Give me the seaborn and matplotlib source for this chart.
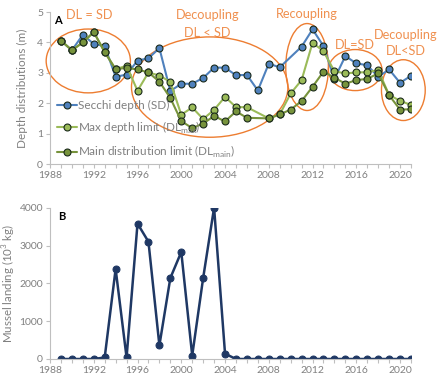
import numpy as np
import pandas as pd
import matplotlib
matplotlib.use("Agg")
import matplotlib.pyplot as plt
from matplotlib.patches import Ellipse
from matplotlib.ticker import MultipleLocator
import seaborn as sns

years = list(range(1989, 2022))
nan = np.nan
secchi = [4.06, 3.74, 4.25, 3.95, 3.88, 2.87, 2.94, 3.40, 3.48, 3.81,
          2.40, 2.64, 2.64, 2.83, 3.17, 3.17, 2.92, 2.93, 2.42, 3.30,
          3.18, nan, 3.86, 4.43, 3.88, 2.80, 3.55, 3.31, 3.25, 2.87,
          3.11, 2.67, 2.90]
max_depth = [4.06, 3.74, 4.00, 4.34, 3.68, 3.12, 3.23, 2.41, 3.01, 2.91,
             2.70, 1.62, 1.86, 1.48, 1.78, 2.21, 1.87, 1.87, nan, 1.50,
             1.63, 2.32, 2.76, 3.99, 3.71, 3.05, 2.98, 3.01, 3.02, 3.09,
             2.27, 2.08, 1.94]
main_dist = [4.06, 3.74, 4.00, 4.34, 3.68, 3.12, 3.16, 3.11, 3.01, 2.71,
             2.17, 1.41, 1.18, 1.33, 1.58, 1.40, 1.73, 1.52, nan, 1.50,
             1.63, 1.79, 2.07, 2.54, 3.04, 2.84, 2.64, 2.76, 2.80, 2.98,
             2.26, 1.79, 1.80]
landing = [0, 0, 0, 0, 40, 2380, 40, 3580, 3100, 360,
           2140, 2830, 90, 2140, 4000, 140, 0, 0, 0, 0,
           0, 0, 0, 0, 0, 0, 0, 0, 0, 0,
           0, 0, 0]
series_names = ["Secchi depth (SD)",
                r"Max depth limit (DL$_{\mathregular{max}}$)",
                r"Main distribution limit (DL$_{\mathregular{main}}$)"]
xticks = list(range(1988, 2021, 4))

sns.set_style("ticks")
plt.rcParams['font.family'] = ['Lato', 'DejaVu Sans']

GRAY = '#808080'
SPINE = '#BFBFBF'
ORANGE = '#ED7D31'

fig = plt.figure(figsize=(4.41, 3.88), dpi=100)
ax1 = fig.add_axes([50/441, 1-164/388, 361/441, 152/388])
ax2 = fig.add_axes([50/441, 1-359/388, 361/441, 151.3/388])

colors = ['#4F81BD', '#9BBB59', '#77933C']
for vals, name, c in zip([secchi, max_depth, main_dist], series_names, colors):
    df = pd.DataFrame({"year": years, "value": vals})
    sns.lineplot(data=df, x="year", y="value", ax=ax1, color=c, lw=1.5,
                 marker='o', markersize=5, markerfacecolor=c,
                 markeredgecolor='#1a2a1a', markeredgewidth=0.8, label=name)

df2 = pd.DataFrame({"year": years, "landing": landing})
sns.lineplot(data=df2, x="year", y="landing", ax=ax2, color='#1F3864', lw=1.8,
             marker='o', markersize=5, markerfacecolor='#1F3864',
             markeredgecolor='#1F3864', legend=False)

for ax in (ax1, ax2):
    ax.set_xlim(1988, 2021)
    ax.set_xticks(xticks)
    ax.xaxis.set_minor_locator(MultipleLocator(1))
    ax.tick_params(axis='both', which='both', colors=SPINE, labelcolor=GRAY,
                   labelsize=7.5, length=3, width=0.8, pad=2)
    for s in ('top', 'right'):
        ax.spines[s].set_visible(False)
    for s in ('left', 'bottom'):
        ax.spines[s].set_color(SPINE)
        ax.spines[s].set_linewidth(0.8)
    ax.set_xlabel("")

ax1.set_ylim(0, 5)
ax1.set_yticks([0, 1, 2, 3, 4, 5])
ax1.set_ylabel("Depth distributions (m)", color=GRAY, fontsize=8.5)
ax1.yaxis.set_label_coords(-0.062, 0.5)
ax2.set_ylim(0, 4000)
ax2.set_yticks([0, 1000, 2000, 3000, 4000])
ax2.set_ylabel(r"Mussel landing (10$^{\mathregular{3}}$ kg)", color=GRAY, fontsize=8.3)
ax2.yaxis.set_label_coords(-0.088, 0.5)

leg = ax1.legend(loc='lower left', bbox_to_anchor=(0.0, -0.02), frameon=False,
                 fontsize=8.5, handlelength=1.7, handletextpad=0.1,
                 labelspacing=0.7, borderaxespad=0.2)
for t in leg.get_texts():
    t.set_color(GRAY)

ellipses = [((1991.5, 3.39), 7.7, 2.1),
            ((2002.6, 2.53), 14.3, 3.3),
            ((2011.5, 3.19), 3.9, 2.86),
            ((2015.9, 3.09), 4.9, 1.35),
            ((2020.3, 2.43), 4.0, 2.0)]
for c, w, h in ellipses:
    ax1.add_patch(Ellipse(c, w, h, fill=False, edgecolor=ORANGE, lw=1.0,
                          clip_on=False, zorder=1))

notes = [(1991.6, 4.9, "DL = SD"), (2002.4, 4.9, "Decoupling"),
         (2002.4, 4.3, "DL < SD"), (2011.5, 4.93, "Recoupling"),
         (2015.9, 3.91, "DL=SD"), (2020.5, 4.24, "Decoupling"),
         (2020.5, 3.72, "DL<SD")]
for x, y, s in notes:
    ax1.text(x, y, s, color=ORANGE, fontsize=9.2, ha='center', va='center',
             alpha=0.85)

ax1.text(1988.7, 4.72, "A", fontsize=8, fontweight='bold', color='black',
         ha='center', va='center')
ax2.text(1989.1, 3780, "B", fontsize=8, fontweight='bold', color='black',
         ha='center', va='center')

fig.savefig("out.png", dpi=100)
